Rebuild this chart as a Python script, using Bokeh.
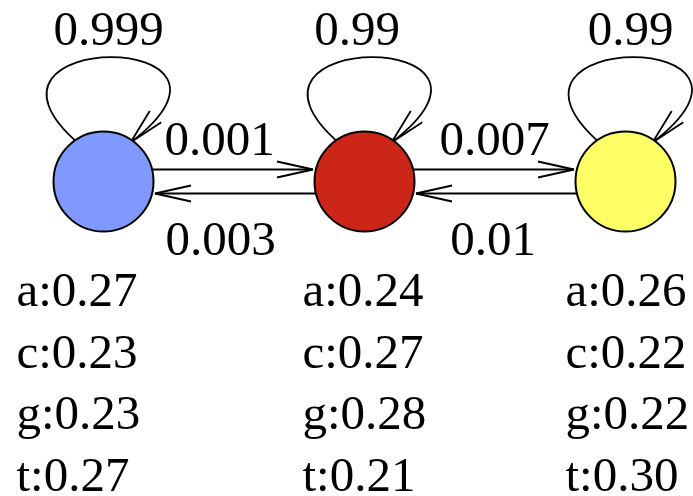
import math
from bokeh.plotting import figure
from bokeh.models import Range1d
from bokeh.core.properties import value
from bokeh.embed import file_html
from bokeh.resources import INLINE

# ---------------- data ----------------
states = ["s1", "s2", "s3"]
node_colors = ["#7f99ff", "#cc2618", "#ffff66"]
self_probs = ["0.999", "0.99", "0.99"]
forward_probs = ["0.001", "0.007"]     # s1->s2, s2->s3
backward_probs = ["0.003", "0.01"]     # s2->s1, s3->s2
symbols = ["a", "c", "g", "t"]
emis_s1 = [0.27, 0.23, 0.23, 0.27]
emis_s2 = [0.24, 0.27, 0.28, 0.21]
emis_s3 = [0.26, 0.22, 0.22, 0.30]

# ---------------- layout ----------------
W, H = 693, 496
node_x = [103, 364, 625]
node_y = 181
R = 50
edge_dy = 12
gap = 3
head_len, head_w = 36, 8
FS = 49
shift = 17  # renderer places alphabetic baseline lower; compensate
loop_label_dx = [5, -7.5, 5]
loop_label_y = 45 - shift
fwd_label_x = [219, 494]
bwd_label_x = [220, 492.5]
fwd_label_y = 155 - shift
bwd_label_y = 255 - shift
col_x = [16, 302, 565]
row_y = [y - shift for y in (306, 368, 429, 491)]
FONT = value("Liberation Serif")
FSIZE = value(f"{FS}px")

p = figure(width=W, height=H, output_backend="svg", toolbar_location=None,
           x_range=Range1d(0, W), y_range=Range1d(H, 0),
           min_border=0, x_axis_location=None, y_axis_location=None)
p.grid.visible = False
p.outline_line_color = None
p.background_fill_color = "white"
p.border_fill_color = "white"


def head(tx, ty, ux, uy):
    # ux, uy: unit vector pointing from tip backwards along the shaft
    px, py = -uy, ux
    bx, by = tx + head_len * ux, ty + head_len * uy
    return ([bx + head_w * px, tx, bx - head_w * px],
            [by + head_w * py, ty, by - head_w * py])


# self loops
lx0, ly0, lx1, ly1, lcx0, lcy0, lcx1, lcy1 = [], [], [], [], [], [], [], []
hx, hy = [], []
for cx in node_x:
    lx0.append(cx - 25); ly0.append(node_y - 38)
    lcx0.append(cx - 158); lcy0.append(node_y - 153)
    lcx1.append(cx + 177); lcy1.append(node_y - 153)
    lx1.append(cx + 27); ly1.append(node_y - 39)
    ang = math.radians(-46)
    xs, ys = head(cx + 27, node_y - 39, math.cos(ang), math.sin(ang))
    hx.append(xs); hy.append(ys)

p.bezier(x0=lx0, y0=ly0, x1=lx1, y1=ly1, cx0=lcx0, cy0=lcy0, cx1=lcx1, cy1=lcy1,
         line_color="black", line_width=1.8)

# transitions between neighbours
half = math.sqrt(R * R - edge_dy * edge_dy)
sx0, sy0, sx1, sy1 = [], [], [], []
for i in range(len(node_x) - 1):
    a, b = node_x[i], node_x[i + 1]
    # forward (upper)
    yf = node_y - edge_dy
    tip = b - half - gap
    sx0.append(a + half); sy0.append(yf); sx1.append(tip); sy1.append(yf)
    xs, ys = head(tip, yf, -1, 0)
    hx.append(xs); hy.append(ys)
    # backward (lower)
    yb = node_y + edge_dy
    tip = a + half + gap
    sx0.append(b - half); sy0.append(yb); sx1.append(tip); sy1.append(yb)
    xs, ys = head(tip, yb, 1, 0)
    hx.append(xs); hy.append(ys)

p.segment(x0=sx0, y0=sy0, x1=sx1, y1=sy1, line_color="black", line_width=2)
p.multi_line(xs=hx, ys=hy, line_color="black", line_width=1.8)

# nodes
p.circle(x=node_x, y=[node_y] * 3, radius=R, fill_color=node_colors,
         line_color="black", line_width=2)

# transition labels
lab_x = [cx + d for cx, d in zip(node_x, loop_label_dx)] + fwd_label_x + bwd_label_x
lab_y = [loop_label_y] * 3 + [fwd_label_y] * 2 + [bwd_label_y] * 2
lab_t = self_probs + forward_probs + backward_probs
p.text(x=lab_x, y=lab_y, text=lab_t, text_align="center", text_baseline="alphabetic",
       text_font=FONT, text_font_size=FSIZE, text_color="black")

# emission labels
ex, ey, et = [], [], []
for j, em in enumerate([emis_s1, emis_s2, emis_s3]):
    for k, (s, v) in enumerate(zip(symbols, em)):
        ex.append(col_x[j]); ey.append(row_y[k]); et.append(f"{s}:{v:.2f}")
p.text(x=ex, y=ey, text=et, text_align="left", text_baseline="alphabetic",
       text_font=FONT, text_font_size=FSIZE, text_color="black")

open("out.html", "w").write(file_html(p, INLINE))
